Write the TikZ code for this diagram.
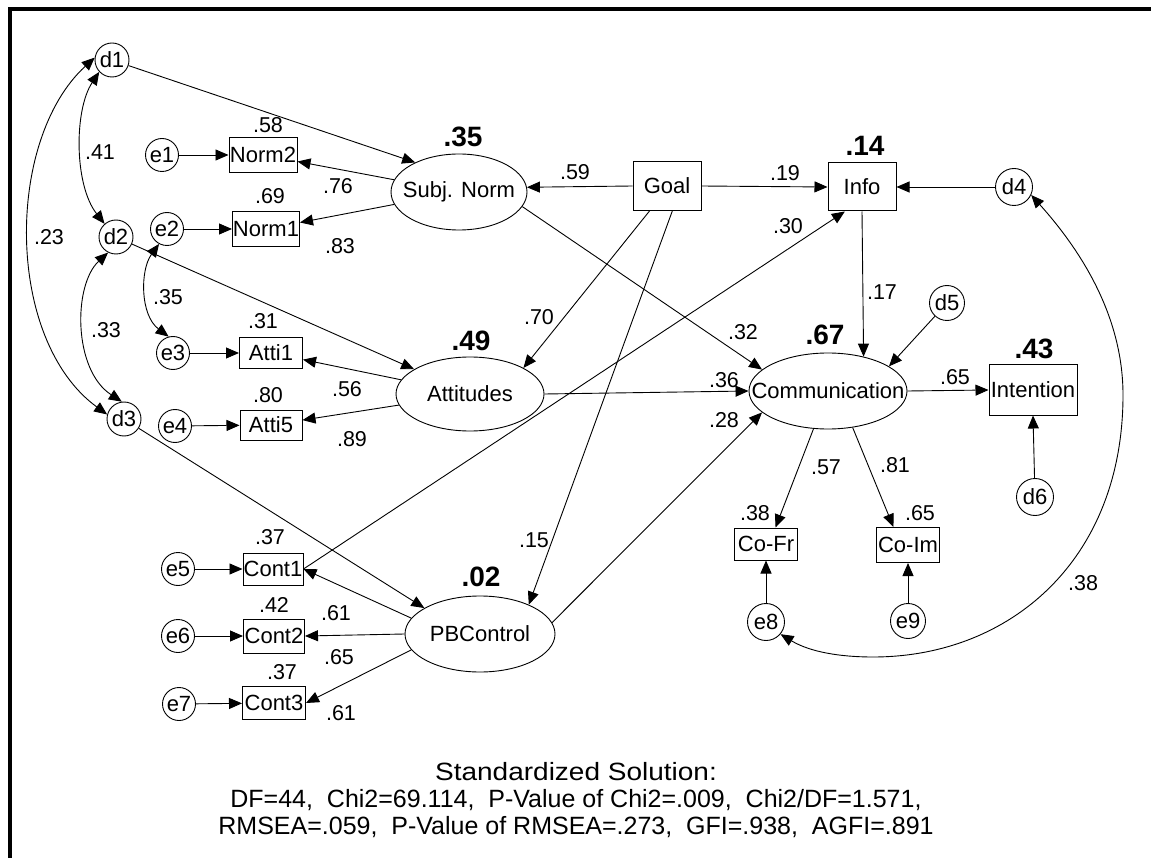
\documentclass[tikz,border=0pt]{standalone}
\usepackage{fontspec}
\setmainfont{Liberation Sans}
\usetikzlibrary{shapes.geometric,arrows.meta}
\begin{document}
\begin{tikzpicture}[x=1pt,y=-1pt,
  every node/.style={inner sep=0pt,font=\fontsize{22}{26}\selectfont},
  obs/.style={draw,rectangle,line width=1pt},
  lat/.style={draw,ellipse,line width=0.9pt},
  err/.style={draw,circle,line width=0.9pt,minimum size=34pt},
  lab/.style={font=\fontsize{21.5}{25}\selectfont},
  rsq/.style={font=\bfseries\fontsize{28}{32}\selectfont},
  tip/.tip={Triangle[length=13pt,width=11pt]},
  arr/.style={-tip,line width=0.9pt},
  cov/.style={tip-tip,line width=0.9pt}]
\useasboundingbox (0,0) rectangle (1151,858);
\fill[white] (0,0) rectangle (1151,858);
\draw[line width=4pt] (1151,9) -- (10,9) -- (10,858);

% observed variables
\node[obs,minimum width=68pt,minimum height=35pt] (n2) at (263,155) {Norm2};
\node[obs,minimum width=67pt,minimum height=35pt] (n1) at (266,229) {Norm1};
\node[obs,minimum width=63pt,minimum height=31pt] (a1) at (271,353) {Atti1};
\node[obs,minimum width=62pt,minimum height=30pt] (a5) at (271,425) {Atti5};
\node[obs,minimum width=60pt,minimum height=32pt] (c1) at (273,569) {Cont1};
\node[obs,minimum width=61pt,minimum height=34pt] (c2) at (274,636) {Cont2};
\node[obs,minimum width=63pt,minimum height=33pt] (c3) at (274,703) {Cont3};
\node[obs,minimum width=68pt,minimum height=49pt] (goal) at (667,186) {Goal};
\node[obs,minimum width=68pt,minimum height=48pt] (info) at (862,187) {Info};
\node[obs,minimum width=88pt,minimum height=50pt] (int) at (1033,390) {Intention};
\node[obs,minimum width=63pt,minimum height=32pt] (cofr) at (766,544) {Co-Fr};
\node[obs,minimum width=63pt,minimum height=35pt] (coim) at (908,545) {Co-Im};

% latent variables
\node[lat,minimum width=136pt,minimum height=76pt] (sn) at (459,192) {\makebox[0pt]{Subj. Norm}};
\node[lat,minimum width=148pt,minimum height=74pt] (att) at (470,394) {\makebox[0pt]{Attitudes}};
\node[lat,minimum width=150pt,minimum height=76pt] (pbc) at (480,634) {\makebox[0pt]{PBControl}};
\node[lat,minimum width=158pt,minimum height=76pt] (comm) at (828,391) {\makebox[0pt]{Communication}};

% error / disturbance terms
\node[err] (d1) at (112,60) {d1};
\node[err] (d2) at (116,237) {d2};
\node[err] (d3) at (124,419) {d3};
\node[err,minimum size=37pt] (d4) at (1014,187) {d4};
\node[err,minimum size=35pt] (d5) at (947,303) {d5};
\node[err,minimum size=37pt] (d6) at (1035,497) {d6};
\node[err,minimum size=33pt] (e1) at (162,155) {e1};
\node[err,minimum size=33pt] (e2) at (167,229) {e2};
\node[err,minimum size=33pt] (e3) at (173,353) {e3};
\node[err,minimum size=33pt] (e4) at (175,426) {e4};
\node[err,minimum size=33pt] (e5) at (178,569) {e5};
\node[err,minimum size=33pt] (e6) at (178,636) {e6};
\node[err,minimum size=33pt] (e7) at (179,704) {e7};
\node[err,minimum size=37pt] (e8) at (766,622) {e8};
\node[err,minimum size=35pt] (e9) at (908,621) {e9};

% paths
\draw[arr] (e1) -- (n2);
\draw[arr] (e2) -- (n1);
\draw[arr] (e3) -- (a1);
\draw[arr] (e4) -- (a5);
\draw[arr] (e5) -- (c1);
\draw[arr] (e6) -- (c2);
\draw[arr] (e7) -- (c3);
\draw[arr] (d1) -- (sn.146);
\draw[arr] (sn) -- (n2);
\draw[arr] (sn) -- (n1);
\draw[arr] (d2) -- (att);
\draw[arr] (att) -- (a1);
\draw[arr] (att) -- (a5);
\draw[arr] (d3) -- (pbc.155);
\draw[arr] (pbc.167) -- (c1.east);
\draw[arr] (pbc.west) -- (c2.east);
\draw[arr] (pbc.193) -- (c3.east);
\draw[arr] (goal.west) -- (sn.4);
\draw[arr] (goal.east) -- (info.west);
\draw[arr] (goal.235) -- (att.26);
\draw[arr] (goal.-78) -- (pbc.31);
\draw[arr] (sn.-13) -- (comm.162);
\draw[arr] (att.east) -- (comm.west);
\draw[arr] (pbc.9) -- (comm.198);
\draw[arr] (c1.east) -- (info.235);
\draw[arr] (info.south) -- (comm.44);
\draw[arr] (d4) -- (info.east);
\draw[arr] (d5) -- (comm.22);
\draw[arr] (comm.east) -- (int.west);
\draw[arr] (d6) -- (int.south);
\draw[arr] (comm.-111) -- (cofr.60);
\draw[arr] (comm.-56) -- (coim.129);
\draw[arr] (e8) -- (cofr);
\draw[arr] (e9) -- (coim);

% covariances
\draw[cov] (d1.-137) .. controls (74,110) and (74,185) .. (d2.131);
\draw[cov] (d1.172) .. controls (5,140) and (5,340) .. (d3.165);
\draw[cov] (d2.-117) .. controls (73,285) and (73,370) .. (d3.97);
\draw[cov] (e2.-118) .. controls (140,270) and (140,315) .. (e3.105);
\draw[cov] (d4.-25) .. controls (1085,255) and (1123,320) .. (1123,395)
  .. controls (1123,560) and (1010,657) .. (873,657)
  .. controls (840,657) and (810,652) .. (e8.-40);

% coefficient labels
\node[lab] (l1) at (268,125) {.58};
\node[lab] (l2) at (338,186) {.76};
\node[lab] (l3) at (270,196) {.69};
\node[lab] (l4) at (340,246) {.83};
\node[lab] (l5) at (100,152) {.41};
\node[lab] (l6) at (49,237) {.23};
\node[lab] (l7) at (168,297) {.35};
\node[lab] (l8) at (106,330) {.33};
\node[lab] (l9) at (263,321) {.31};
\node[lab] (l10) at (347,389) {.56};
\node[lab] (l11) at (268,395) {.80};
\node[lab] (l12) at (352,439) {.89};
\node[lab] (l13) at (270,537) {.37};
\node[lab] (l14) at (274,605) {.42};
\node[lab] (l15) at (336,613) {.61};
\node[lab] (l16) at (339,657) {.65};
\node[lab] (l17) at (282,672) {.37};
\node[lab] (l18) at (341,713) {.61};
\node[lab] (l19) at (534,540) {.15};
\node[lab] (l20) at (539,317) {.70};
\node[lab] (l21) at (575,172) {.59};
\node[lab] (l22) at (785,173) {.19};
\node[lab] (l23) at (788,226) {.30};
\node[lab] (l24) at (882,292) {.17};
\node[lab] (l25) at (743,332) {.32};
\node[lab] (l26) at (724,380) {.36};
\node[lab] (l27) at (724,420) {.28};
\node[lab] (l28) at (955,377) {.65};
\node[lab] (l29) at (826,467) {.57};
\node[lab] (l30) at (895,465) {.81};
\node[lab] (l31) at (755,513) {.38};
\node[lab] (l32) at (920,513) {.65};
\node[lab] (l33) at (1083,583) {.38};

% squared multiple correlations
\node[rsq] (r1) at (463,137) {.35};
\node[rsq] (r2) at (471,341) {.49};
\node[rsq] (r3) at (481,577) {.02};
\node[rsq] (r4) at (825,335) {.67};
\node[rsq] (r5) at (865,146) {.14};
\node[rsq] (r6) at (1034,349) {.43};

% fit statistics
\node[align=center,font=\fontsize{25}{27}\selectfont] (fit) at (576,800)
  {\scalebox{1.12}[1]{Standardized Solution:}\\
   DF=44,~ Chi2=69.114,~ P-Value of Chi2=.009,~ Chi2/DF=1.571,\\
   RMSEA=.059,~ P-Value of RMSEA=.273,~ GFI=.938,~ AGFI=.891};
\end{tikzpicture}
\end{document}
